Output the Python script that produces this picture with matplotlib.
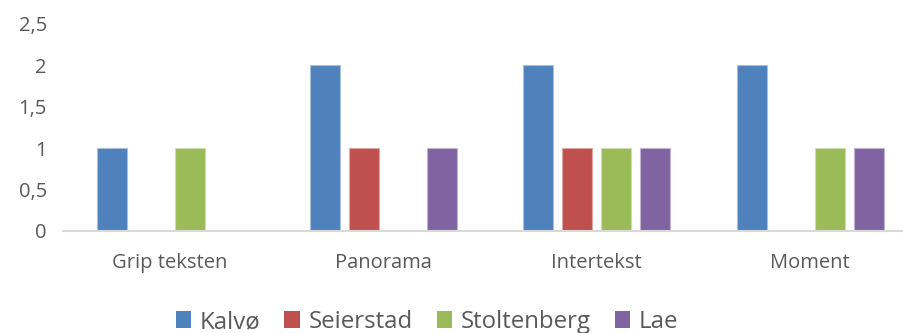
import matplotlib
matplotlib.use("Agg")
import matplotlib.pyplot as plt
import numpy as np

# data
kategorier = ["Grip teksten", "Panorama", "Intertekst", "Moment"]
kalvo = [1, 2, 2, 2]
seierstad = [0, 1, 1, 0]
stoltenberg = [1, 0, 1, 1]
lae = [0, 1, 1, 1]
serier = ["Kalvø", "Seierstad", "Stoltenberg", "Lae"]
yticks = [0, 0.5, 1, 1.5, 2, 2.5]

FARGER = ["#4F81BD", "#C0504D", "#9BBB59", "#8064A2"]
KANT = ["#A7C0DE", "#DFA8A6", "#CDDDAC", "#BFB1D0"]
GRA = "#595959"

plt.rcParams["font.family"] = ["Open Sans", "DejaVu Sans"]

fig = plt.figure(figsize=(9.04, 3.33), dpi=100)
ax = fig.add_axes([63.5 / 904, 102 / 333, 853.3 / 904, 207 / 333])

x = np.arange(len(kategorier))
steg = 0.183
bredde = 0.141
verdier = [kalvo, seierstad, stoltenberg, lae]
for i, (navn, v) in enumerate(zip(serier, verdier)):
    ax.bar(x + (i - 1.5) * steg, v, bredde, color=FARGER[i], edgecolor=KANT[i],
           linewidth=0.8, label=navn, zorder=1)

ax.set_xlim(-0.5, 3.5)
ax.set_ylim(0, 2.5)
ax.set_yticks(yticks)
ax.set_yticklabels([f"{t:g}".replace(".", ",") for t in yticks])
ax.set_xticks(x)
ax.set_xticklabels(kategorier)
ax.tick_params(axis="both", length=0, labelsize=14.5, colors=GRA)
ax.tick_params(axis="y", pad=12)
ax.tick_params(axis="x", pad=16)

for s in ["top", "right", "left"]:
    ax.spines[s].set_visible(False)
ax.spines["bottom"].set_color("#D9D9D9")
ax.spines["bottom"].set_linewidth(1.5)

leg = fig.legend(loc="center", bbox_to_anchor=(427 / 904, 1 - 322 / 333), ncol=4,
                 frameon=False, fontsize=17.3, handlelength=0.65, handleheight=0.75,
                 handletextpad=0.35, columnspacing=1.0, borderaxespad=0)
for t in leg.get_texts():
    t.set_color(GRA)
for h in leg.legend_handles:
    h.set_edgecolor("none")

fig.savefig("out.png", dpi=100)
